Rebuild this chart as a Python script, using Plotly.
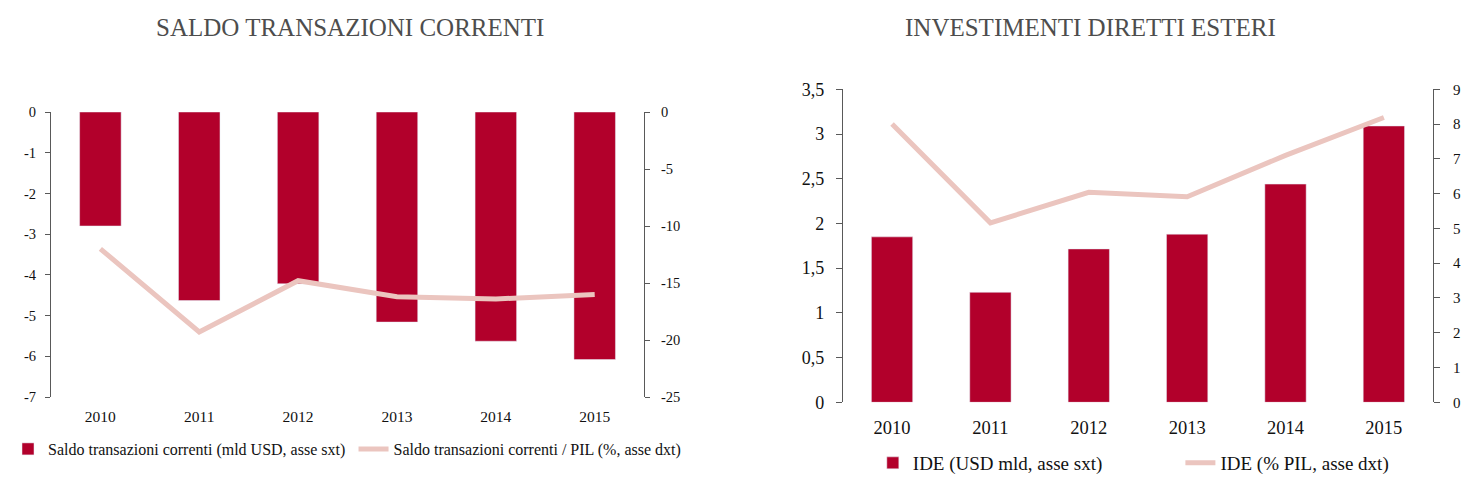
import plotly.graph_objects as go

# ---------------- data ----------------
years = ["2010", "2011", "2012", "2013", "2014", "2015"]
saldo_usd = [-2.80, -4.63, -4.22, -5.16, -5.63, -6.08]      # mld USD, asse sx
saldo_pil = [-12.0, -19.3, -14.8, -16.2, -16.4, -16.0]      # % PIL, asse dx
ide_usd = [1.85, 1.23, 1.715, 1.88, 2.44, 3.09]             # USD mld, asse sx
ide_pil = [8.0, 5.16, 6.04, 5.91, 7.1, 8.19]                # % PIL, asse dx

left_y_ticks = [0, -1, -2, -3, -4, -5, -6, -7]
left_y2_ticks = [0, -5, -10, -15, -20, -25]

title_left = "SALDO TRANSAZIONI CORRENTI"
title_right = "INVESTIMENTI DIRETTI ESTERI"
name_saldo_usd = "Saldo transazioni correnti (mld USD, asse sxt)"
name_saldo_pil = "Saldo transazioni correnti / PIL (%, asse dxt)"
name_ide_usd = "IDE (USD mld, asse sxt)"
name_ide_pil = "IDE (% PIL, asse dxt)"

# ---------------- style ----------------
OFF = 8                      # default page body margin
W, H = 1473 - OFF, 485 - OFF
BAR = "#B2002B"
LINE = "#EBC5BF"
AX = "#595959"
FONT = "Liberation Serif"
TXT = "#111111"


def px(x):
    return (x - OFF) / W


def py(y):
    return 1 - (y - OFF) / H


def f(size):
    return dict(family=FONT, size=size, color=TXT)


boundaries = [i - 0.5 for i in range(len(years) + 1)]
xr = [-0.5, len(years) - 0.5]

fig = go.Figure()

# Left chart
fig.add_trace(go.Bar(x=years, y=saldo_usd, name=name_saldo_usd, marker_color=BAR,
                     width=0.42, xaxis="x", yaxis="y", legend="legend"))
fig.add_trace(go.Scatter(x=years, y=saldo_pil, name=name_saldo_pil, mode="lines",
                         line=dict(color=LINE, width=5), xaxis="x", yaxis="y2",
                         legend="legend2"))
# Right chart
fig.add_trace(go.Bar(x=years, y=ide_usd, name=name_ide_usd, marker_color=BAR,
                     width=0.42, xaxis="x3", yaxis="y3", legend="legend3"))
fig.add_trace(go.Scatter(x=years, y=ide_pil, name=name_ide_pil, mode="lines",
                         line=dict(color=LINE, width=5), xaxis="x3", yaxis="y4",
                         legend="legend4"))

common = dict(showgrid=False, zeroline=False, linecolor=AX, tickcolor=AX,
              automargin=False, linewidth=1)

L_dom = [px(49), px(643)]
L_ydom = [py(397), py(112)]
R_dom = [px(842), px(1433)]
R_ydom = [py(402.3), py(89.3)]

fig.update_layout(
    width=W, height=H,
    margin=dict(l=0, r=0, t=0, b=0, pad=0),
    paper_bgcolor="white", plot_bgcolor="white",
    separators=", ",
    showlegend=True,
    font=dict(family=FONT, color=TXT),
    # ----- left chart -----
    xaxis=dict(domain=L_dom, anchor="y", type="category", showline=False,
               ticks="", ticklabelstandoff=8, tickfont=f(15.5), **common),
    xaxis2=dict(domain=L_dom, anchor="y", overlaying="x", side="top",
                range=xr, tickvals=boundaries,
                showticklabels=False, showline=True, ticks="inside", ticklen=4,
                **common),
    xaxis5=dict(domain=L_dom, anchor="y", overlaying="x", side="top",
                range=xr, tickvals=boundaries,
                showticklabels=False, showline=False, ticks="outside", ticklen=4,
                **common),
    yaxis=dict(domain=L_ydom, anchor="x", range=[-7, 0],
               tickvals=left_y_ticks, ticktext=[str(v) for v in left_y_ticks],
               showline=True, ticks="outside", ticklen=5, ticklabelstandoff=6,
               tickfont=f(14.5), **common),
    yaxis2=dict(domain=L_ydom, anchor="x", overlaying="y", side="right",
                range=[-25, 0],
                tickvals=left_y2_ticks, ticktext=[str(v) for v in left_y2_ticks],
                showline=True, ticks="outside", ticklen=5, ticklabelstandoff=8,
                tickfont=f(14.5), **common),
    # ----- right chart -----
    xaxis3=dict(domain=R_dom, anchor="y3", type="category", showline=False,
                ticks="", ticklabelstandoff=12, tickfont=f(18.5), **common),
    xaxis4=dict(domain=R_dom, anchor="y3", overlaying="x3", side="bottom",
                range=xr, tickvals=boundaries,
                showticklabels=False, showline=True, ticks="outside", ticklen=6,
                **common),
    xaxis6=dict(domain=R_dom, anchor="y3", overlaying="x3", side="bottom",
                range=xr, tickvals=boundaries,
                showticklabels=False, showline=False, ticks="inside", ticklen=4,
                **common),
    yaxis3=dict(domain=R_ydom, anchor="x3", range=[0, 3.5], dtick=0.5,
                showline=True, ticks="outside", ticklen=6, ticklabelstandoff=8,
                tickfont=f(18), **common),
    yaxis4=dict(domain=R_ydom, anchor="x3", overlaying="y3", side="right",
                range=[0, 9], dtick=1, showline=True, ticks="outside",
                ticklen=6, ticklabelstandoff=10, tickfont=f(15), **common),
    yaxis5=dict(domain=R_ydom, anchor="x3", overlaying="y3", side="right",
                range=[0, 9], dtick=1, showline=False, ticks="inside",
                ticklen=5, showticklabels=False, **common),
    legend=dict(x=px(6), y=py(449), xanchor="left", yanchor="middle",
                bgcolor="rgba(0,0,0,0)", font=f(16)),
    legend2=dict(x=px(352), y=py(449), xanchor="left", yanchor="middle",
                 bgcolor="rgba(0,0,0,0)", font=f(16)),
    legend3=dict(x=px(872), y=py(463), xanchor="left", yanchor="middle",
                 bgcolor="rgba(0,0,0,0)", font=f(19)),
    legend4=dict(x=px(1180), y=py(463), xanchor="left", yanchor="middle",
                 bgcolor="rgba(0,0,0,0)", font=f(19)),
    annotations=[
        dict(text=title_left, x=px(348), y=py(27), xref="paper", yref="paper",
             showarrow=False, xanchor="center", yanchor="middle",
             font=dict(family=FONT, size=25, color="#4d4d4d")),
        dict(text=title_right, x=px(1090), y=py(27), xref="paper", yref="paper",
             showarrow=False, xanchor="center", yanchor="middle",
             font=dict(family=FONT, size=25, color="#4d4d4d")),
    ],
)

fig.write_html("out.html")
